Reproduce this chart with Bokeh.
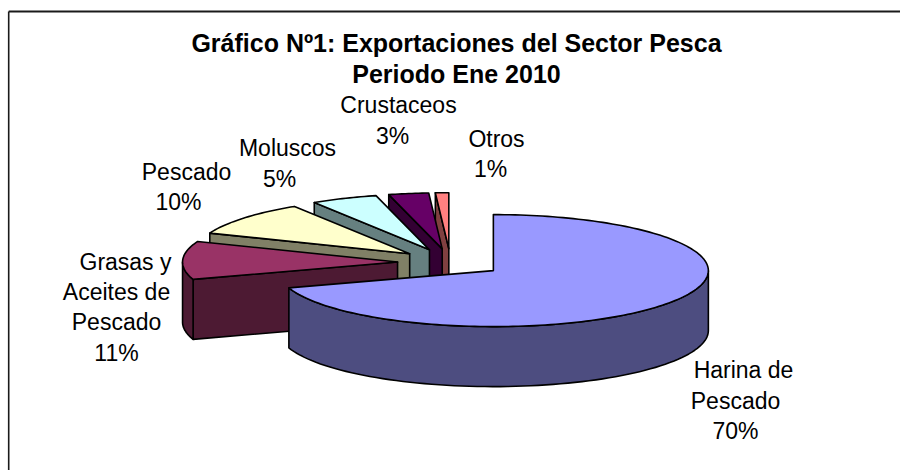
import numpy as np
from bokeh.plotting import figure
from bokeh.embed import file_html
from bokeh.resources import INLINE
from bokeh.core.properties import value

# Data
categories = ["Harina de Pescado", "Grasas y Aceites de Pescado", "Pescado", "Moluscos", "Crustaceos", "Otros"]
shares = [70, 11, 10, 5, 3, 1]
title_lines = ["Gráfico Nº1: Exportaciones del Sector Pesca", "Periodo Ene 2010"]
label_lines = ["Harina de", "Pescado", "70%", "Grasas y", "Aceites de", "Pescado", "11%",
               "Pescado", "10%", "Moluscos", "5%", "Crustaceos", "3%", "Otros", "1%"]

# Style
top_colors = ["#9999FF", "#993366", "#FFFFCC", "#CCFFFF", "#660066", "#FF8080"]
side_colors = ["#4D4D80", "#4D1A33", "#808066", "#668080", "#330033", "#804040"]

# Layout (page pixels are the data units of the figure)
label_x = [743, 735, 735, 125, 116, 116, 116, 186, 178, 287, 279, 398, 392, 496, 490]
label_y = [369, 400, 430, 261, 291, 321, 352, 171, 201, 147, 178, 104, 135, 138, 168]
title_x = [456, 456]
title_y = [42, 73]
CX, CY, RX, RY, DEPTH, EXPLODE = 450, 262, 215, 56, 60, 0.2464

p = figure(width=900, height=470, x_range=(0, 900), y_range=(470, 0),
           output_backend="svg", toolbar_location=None, min_border=0)
p.axis.visible = False
p.grid.visible = False
p.outline_line_color = None
p.background_fill_color = "white"
p.border_fill_color = "white"

# Chart frame: only top and left sides reach the picture
p.line([8.2, 900], [11, 11], line_color="#1a1a1a", line_width=2)
p.line([8.2, 8.2], [11, 470], line_color="#1a1a1a", line_width=1.6)

fractions = np.array(shares, dtype=float) / sum(shares)
ends = np.cumsum(fractions) * 2 * np.pi
starts = ends - fractions * 2 * np.pi

STYLE = dict(line_color="black", line_width=1.6, line_join="round")


def rim(th, ax, ay):
    return ax + RX * np.sin(th), ay - RY * np.cos(th)


# Painter's order: the slices at the back of the pie first
for i in range(len(shares) - 1, -1, -1):
    a0, a1 = starts[i], ends[i]
    mid = (a0 + a1) / 2
    ax = CX + EXPLODE * RX * np.sin(mid)
    ay = CY - EXPLODE * RY * np.cos(mid)

    # Radial cut faces
    for th, visible in ((a0, np.sin(a0) < -1e-6), (a1, np.sin(a1) > 1e-6)):
        if visible:
            rx, ry = rim(th, ax, ay)
            p.patch([ax, rx, rx, ax], [ay, ry, ry + DEPTH, ay + DEPTH],
                    fill_color=side_colors[i], **STYLE)

    # Outer wall: the part of the rim that faces the viewer
    w0, w1 = max(a0, np.pi / 2), min(a1, 3 * np.pi / 2)
    if w1 > w0:
        th = np.linspace(w0, w1, 80)
        rx, ry = rim(th, ax, ay)
        p.patch(np.r_[rx, rx[::-1]], np.r_[ry, ry[::-1] + DEPTH],
                fill_color=side_colors[i], **STYLE)

    # Top face
    th = np.linspace(a0, a1, max(6, int(240 * fractions[i]) + 6))
    rx, ry = rim(th, ax, ay)
    p.patch(np.r_[ax, rx], np.r_[ay, ry], fill_color=top_colors[i], **STYLE)

p.text(x=label_x, y=label_y, text=label_lines, text_font=value("Liberation Sans"),
       text_font_size="23px", text_color="black", text_align="center", text_baseline="middle")
p.text(x=title_x, y=title_y, text=title_lines, text_font=value("Liberation Sans"),
       text_font_size="25px", text_font_style="bold", text_color="black",
       text_align="center", text_baseline="middle")

open("out.html", "w").write(file_html(p, INLINE))
